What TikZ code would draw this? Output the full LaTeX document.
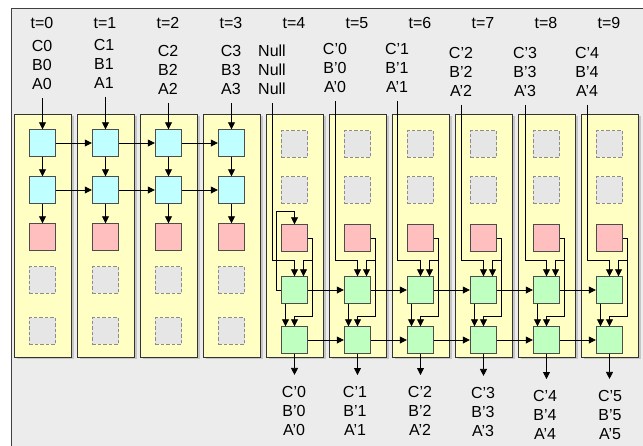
\documentclass[tikz,border=0pt]{standalone}
\usepackage{fontspec}
\setmainfont{Liberation Sans}
\usepackage{tikz}
\usetikzlibrary{arrows.meta,positioning,shadows}

\definecolor{bggray}{HTML}{ECECEC}
\definecolor{colyellow}{HTML}{FFFFC4}
\definecolor{cellblue}{HTML}{BFFFFF}
\definecolor{cellpink}{HTML}{FFBFBF}
\definecolor{cellgreen}{HTML}{BFFFC0}
\definecolor{cellgray}{HTML}{E6E6E6}

\begin{document}
\begin{tikzpicture}[x=1pt,y=-1pt,font=\fontsize{16}{19}\selectfont,
    >={Triangle[length=7pt,width=7pt]},line width=0.8pt,
    col/.style={draw=black!80,fill=colyellow,line width=0.9pt,
                minimum width=57pt,minimum height=243pt,
                drop shadow={shadow xshift=2pt,shadow yshift=-2pt,opacity=0.35}},
    cell/.style={draw=black!70,minimum size=26.5pt,inner sep=0pt,line width=0.9pt},
    enc/.style={cell,fill=cellblue},
    attn/.style={cell,fill=cellpink},
    dec/.style={cell,fill=cellgreen},
    pad/.style={cell,fill=cellgray,draw=black!45,dash pattern=on 3.5pt off 2pt},
    lbl/.style={align=center,inner sep=1pt},
    feed/.style={->,shorten <=7pt}]
  \useasboundingbox (0,0) rectangle (643,445);
  \clip (0,0) rectangle (643,445);
  \draw[fill=bggray,draw=black!75,line width=1pt] (11,8) rectangle (660,460);

  % time steps
  \foreach \i in {0,...,9} {
    \node[col] (col-\i) at (43+63*\i,235.5) {};
    \node (t-\i) at (42+63*\i,23) {t=\i};
  }

  % encoder
  \foreach \i/\x/\y in {0/42/65,1/104/64,2/168/70,3/231/70} {
    \pgfmathsetmacro\cx{42.5+63*\i}
    \node[enc] (enc1-\i) at (\cx,143) {};
    \node[enc] (enc2-\i) at (\cx,190) {};
    \node[attn] (attn-\i) at (\cx,237) {};
    \node[pad] (pad1-\i) at (\cx,280) {};
    \node[pad] (pad2-\i) at (\cx,331) {};
    \node[lbl] (in-\i) at (\x,\y) {C\i\\B\i\\A\i};
    \draw[feed] (enc1-\i.north |- in-\i.south) -- (enc1-\i.north);
    \draw[->] (enc1-\i) -- (enc2-\i);
    \draw[->] (enc2-\i) -- (attn-\i);
  }
  \foreach \i/\j in {0/1,1/2,2/3} {
    \draw[->] (enc1-\i) -- (enc1-\j);
    \draw[->] (enc2-\i) -- (enc2-\j);
  }

  % decoder
  \node[lbl] (in-4) at (272,70) {Null\\Null\\Null};
  \foreach \i/\x/\y/\k in {5/335/68/0,6/397/68/1,7/461/72/2,8/525/72/3,9/587/72/4}
    \node[lbl] (in-\i) at (\x,\y) {C'\k\\B'\k\\A'\k};
  \foreach \i/\x/\y/\k in {4/294/411/0,5/355/411/1,6/420/411/2,7/483/412/3,
                           8/545/415/4,9/610/415/5}
    \node[lbl] (out-\i) at (\x,\y) {C'\k\\B'\k\\A'\k};

  \foreach \i in {4,...,9} {
    \pgfmathsetmacro\cx{42.5+63*\i}
    \node[pad] (pad1-\i) at (\cx,144) {};
    \node[pad] (pad2-\i) at (\cx,190) {};
    \node[attn] (attn-\i) at (\cx,238) {};
    \node[dec] (dec1-\i) at (\cx,290) {};
    \node[dec] (dec2-\i) at (\cx,340) {};
    \draw[feed] (in-\i.south) |- ([yshift=16pt]dec1-\i.north) -- (dec1-\i.north);
    \draw[->] (attn-\i.east) -- ++(4,0)
      |- ([xshift=9pt,yshift=16pt]dec1-\i.north) -- ([xshift=9pt]dec1-\i.north);
    \draw[->] ([xshift=4pt]attn-\i.east) |- ([yshift=10pt]dec2-\i.north)
      -- (dec2-\i.north);
    \draw[->] ([xshift=-9pt]dec1-\i.south) -- ([xshift=-9pt]dec2-\i.north);
    \draw[->,shorten >=10pt] (dec2-\i.south) -- (dec2-\i.south |- out-\i.north);
  }
  \draw[->] (dec1-4.west) -- ++(-4,0) |- ([yshift=13pt]attn-4.north)
    -- (attn-4.north);
  \foreach \i/\j in {4/5,5/6,6/7,7/8,8/9} {
    \draw[->] (dec1-\i) -- (dec1-\j);
    \draw[->] (dec2-\i) -- (dec2-\j);
  }
\end{tikzpicture}
\end{document}
